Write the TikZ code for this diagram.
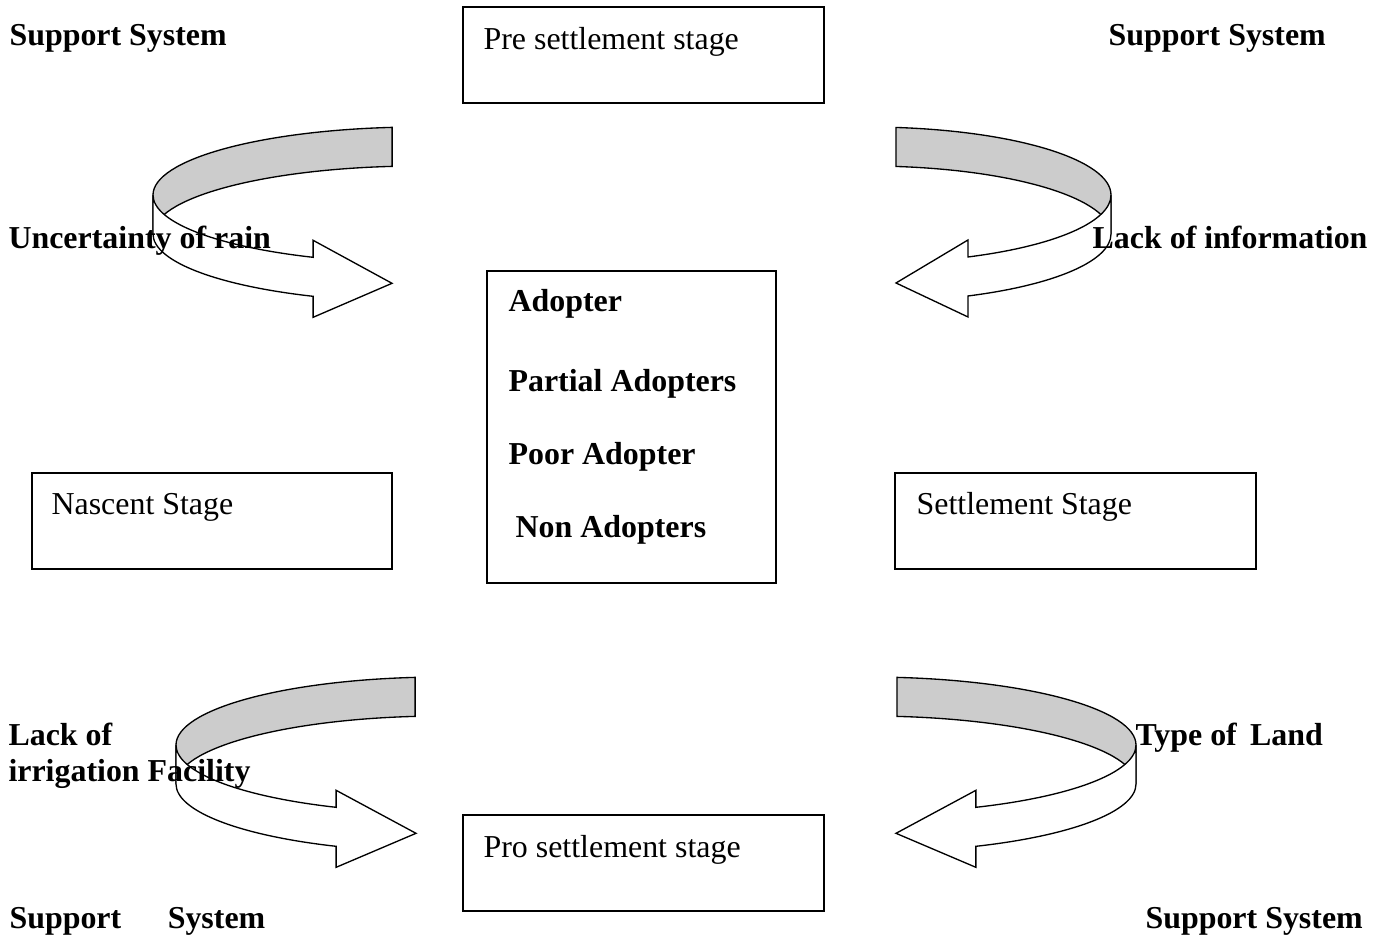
\documentclass[12pt,tikz,border=0pt]{standalone}
\usepackage{fontspec}
\setmainfont{Liberation Serif}
\usetikzlibrary{positioning}
\def\unit{0.376pt}
\tikzset{
    stagebox/.style={draw, line width=0.7pt, inner sep=0pt},
    boxtext/.style={anchor=base west, inner sep=0pt},
    factor/.style={anchor=base west, inner sep=0pt, font=\bfseries},
    ribbon back/.style={draw, line width=0.5pt, fill=gray!40},
    ribbon front/.style={draw, line width=0.5pt, fill=white},
}
% curved ribbon arrow: #1 x radius, #2 back end angle, #3 front end angle, #4 tip x
\newcommand{\ribbonarrow}[4]{%
    \filldraw[ribbon back] (-#1,0) arc[start angle=180, end angle=#2, x radius=#1, y radius=68]
        -- ++(0,39) arc[start angle=#2, end angle=180, x radius=#1, y radius=68] -- cycle;
    \filldraw[ribbon front] (-#1,0) arc[start angle=180, end angle=#3, x radius=#1, y radius=68]
        -- ++(0,-17) -- (#4,{68*sin(#3)+26}) -- ({#1*cos(#3)},{68*sin(#3)+60})
        -- ++(0,-21) arc[start angle=#3, end angle=180, x radius=#1, y radius=68] -- cycle;
}
\begin{document}
\begin{tikzpicture}[x=\unit, y=-\unit]
    \useasboundingbox (0,0) rectangle (1382,941);

    % stage boxes
    \node[stagebox, minimum width=361*\unit, minimum height=96*\unit] (pre) at (643.5,55) {};
    \node[stagebox, minimum width=289*\unit, minimum height=312*\unit] (adopt) at (631.5,427) {};
    \node[stagebox, minimum width=360*\unit, minimum height=96*\unit] (nascent) at (212,521) {};
    \node[stagebox, minimum width=361*\unit, minimum height=96*\unit] (settle) at (1075.5,521) {};
    \node[stagebox, minimum width=361*\unit, minimum height=96*\unit] (pro) at (643.5,863) {};

    \node[boxtext] (pre_text) at ([shift={(21,43)}]pre.north west) {Pre settlement stage};
    \node[boxtext] (nascent_text) at ([shift={(20,42)}]nascent.north west) {Nascent Stage};
    \node[boxtext] (settle_text) at ([shift={(22,42)}]settle.north west) {Settlement Stage};
    \node[boxtext] (pro_text) at ([shift={(21,43)}]pro.north west) {Pro settlement stage};

    \node[factor] (adopter) at ([shift={(22,41)}]adopt.north west) {Adopter};
    \node[factor] (partial) at ([shift={(22,121)}]adopt.north west) {Partial Adopters};
    \node[factor] (poor) at ([shift={(22,194)}]adopt.north west) {Poor Adopter};
    \node[factor] (non) at ([shift={(29,267)}]adopt.north west) {Non Adopters};

    % curved arrows
    \begin{scope}[shift={(420,195)}]
        \ribbonarrow{267}{264}{113.6}{-28}
    \end{scope}
    \begin{scope}[shift={(868,195)}, xscale=-1]
        \ribbonarrow{243}{263.4}{114.3}{-28}
    \end{scope}
    \begin{scope}[shift={(443,745)}]
        \ribbonarrow{267}{264}{113.6}{-27}
    \end{scope}
    \begin{scope}[shift={(869,745)}, xscale=-1]
        \ribbonarrow{267}{264}{113.6}{-27}
    \end{scope}

    % support system and factors
    \node[factor] (support_tl) at (9,46) {Support System};
    \node[factor] (support_tr) at (1108,46) {Support System};
    \node[factor] (support_bl) at (9,928) {Support\hspace{17.5pt}System};
    \node[factor] (support_br) at (1145,928) {Support System};

    \node[factor] (rain) at (8,248) {Uncertainty of rain};
    \node[factor, anchor=base east] (info) at (1368,248) {Lack of information};
    \node[factor, align=left] (irrigation) at (8,781) {Lack of\\[-1pt]irrigation Facility};
    \node[factor] (land) at (1135,745) {Type of \,Land};
\end{tikzpicture}
\end{document}
